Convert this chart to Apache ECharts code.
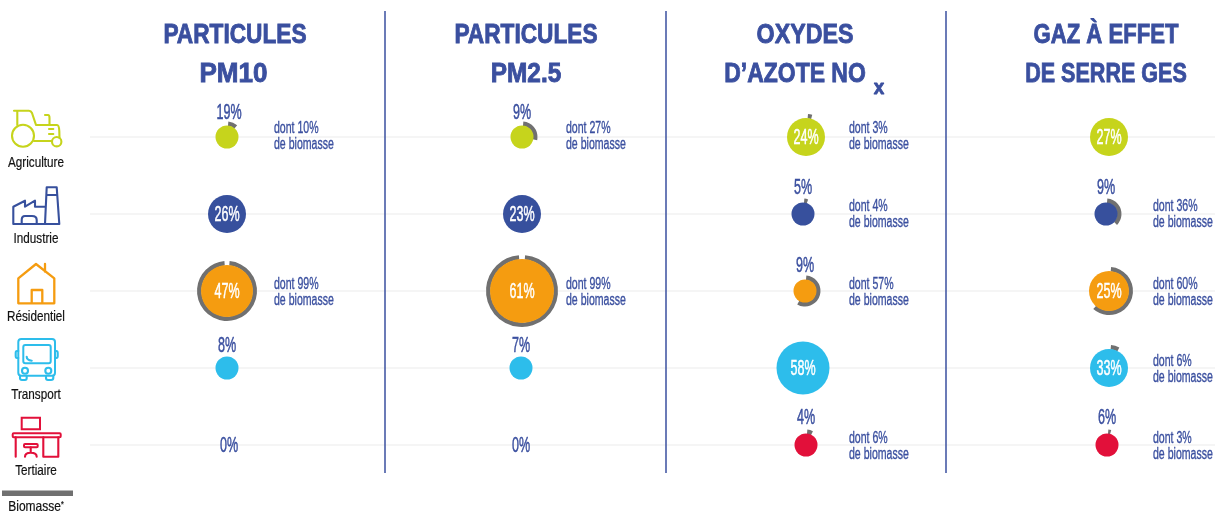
<!DOCTYPE html>
<html><head><meta charset="utf-8">
<style>html,body{margin:0;padding:0;background:#fff}#c{width:1215px;height:513px}</style>
<script src="https://cdn.jsdelivr.net/npm/echarts@6/dist/echarts.min.js"></script>
</head><body><div id="c"></div>
<script>
const sectors = ['Agriculture','Industrie','Résidentiel','Transport','Tertiaire'];
const pm10 = [19,26,47,8,0];
const pm25 = [9,23,61,7,0];
const nox  = [24,5,9,58,4];
const ges  = [27,9,25,33,6];
const pm10Biomass = [10,null,99,null,null];
const pm25Biomass = [27,null,99,null,null];
const noxBiomass  = [3,4,57,null,6];
const gesBiomass  = [null,36,60,6,3];

const BLUE='#3a4f9f', GRAY='#707070', FONT='"Liberation Sans",sans-serif';
const sectorColors=['#c6d41c','#37509d','#f59c10','#2dbdeb','#e2103a'];
const columns=[
 {values:pm10,bio:pm10Biomass,c:227,noteX:274,nudge:[0,0,0,0,2],labelNudge:[2,0,0,0,0]},
 {values:pm25,bio:pm25Biomass,c:522,noteX:566,nudge:[0,0,0,-1,-1],labelNudge:[0,0,0,0,0]},
 {values:nox,bio:noxBiomass,c:803,noteX:849,nudge:[3,0,2,0,3],labelNudge:[0,0,0,0,0]},
 {values:ges,bio:gesBiomass,c:1106,noteX:1153,nudge:[3,0,3,3,1],labelNudge:[0,0,0,0,0]}
];
const labelRise=[24,26,25,22,27], noteShift=[0,1,2,2,2], sectorLabelDrop=[26,25,26,27,26];
function diameter(v){
  if(v>=61) return 64;
  if(v>=47) return v===47?52:53;
  if(v===25) return 40;
  if(v>=23) return 38;
  return 23;
}
function pctText(txt,x,y,fill){
  return {type:'text',x,y,scaleX:.57,style:{text:txt,fill,stroke:fill,lineWidth:.5,font:'22px '+FONT,align:'center',verticalAlign:'middle'}};
}
function makeRender(col){
  return function(params,api){
    const xi=api.value(0), row=api.value(1), v=api.value(2), b=api.value(3);
    const p=api.coord([xi,row]);
    const cx=p[0]+col.nudge[row], cy=p[1];
    const kids=[];
    if(v===0){
      kids.push(pctText(v+'%',cx,cy+1,BLUE));
      return {type:'group',children:kids};
    }
    const d=diameter(v), r=d/2;
    if(!isNaN(b)&&b>0){
      const s=5*Math.PI/180, sweep=Math.min(b/100*2*Math.PI,350*Math.PI/180);
      const a0=-Math.PI/2+s;
      kids.push({type:'sector',shape:{cx,cy,r0:r-0.5,r:r+4,startAngle:a0,endAngle:a0+sweep,clockwise:true},style:{fill:GRAY}});
    }
    kids.push({type:'circle',shape:{cx,cy,r},style:{fill:sectorColors[row]}});
    if(d>=38) kids.push(pctText(v+'%',cx,cy+1,'#fff'));
    else kids.push(pctText(v+'%',cx+col.labelNudge[row],cy-labelRise[row],BLUE));
    if(!isNaN(b)&&b>0){
      const ny=p[1]+noteShift[row];
      [['dont '+b+'%',-8],['de biomasse',8]].forEach(function(l){
        kids.push({type:'text',x:col.noteX,y:ny+l[1],scaleX:.66,style:{text:l[0],fill:BLUE,stroke:BLUE,lineWidth:.35,font:'16px '+FONT,align:'left',verticalAlign:'middle'}});
      });
    }
    return {type:'group',children:kids};
  };
}
const grids=[{left:90,right:0,top:137,height:308}], xAxes=[{gridIndex:0,type:'value',show:false,min:0,max:1}], yAxes=[{
  gridIndex:0,type:'category',inverse:true,boundaryGap:false,data:sectors,
  axisLine:{show:false},axisTick:{show:false},axisLabel:{show:false},
  splitLine:{show:true,lineStyle:{color:'#f5f5f5',width:2}}
}];
const series=[];
columns.forEach(function(col,i){
  grids.push({left:col.c-10,width:20,top:137,height:308});
  xAxes.push({gridIndex:i+1,type:'category',show:false,data:['']});
  yAxes.push({gridIndex:i+1,type:'category',show:false,inverse:true,boundaryGap:false,data:sectors});
  series.push({type:'custom',xAxisIndex:i+1,yAxisIndex:i+1,renderItem:makeRender(col),silent:true,
    data:col.values.map(function(v,r){return [0,r,v,col.bio[r]==null?NaN:col.bio[r]];})});
});
// sector names, placed under their row on the shared category axis
series.push({type:'custom',xAxisIndex:0,yAxisIndex:0,silent:true,clip:false,
  data:sectors.map(function(s,r){return [0,r];}),
  renderItem:function(params,api){
    const r=api.value(1), y=api.coord([0,r])[1];
    return {type:'text',x:36,y:y+sectorLabelDrop[r],scaleX:.78,style:{text:sectors[r],fill:'#111',stroke:'#111',lineWidth:.2,font:'15px '+FONT,align:'center',verticalAlign:'middle'}};
  }});
function ln(d,color,w){return {type:'path',shape:{pathData:d},style:{fill:'none',stroke:color,lineWidth:w||2.1,lineJoin:'round',lineCap:'round'}};}
function ci(x,y,r,color){return {type:'circle',shape:{cx:x,cy:y,r},style:{fill:'none',stroke:color,lineWidth:2.1}};}
function re(x,y,w,h,color,rad){return {type:'rect',shape:{x,y,width:w,height:h,r:rad||0},style:{fill:'none',stroke:color,lineWidth:2}};}
const icons=[
 ln('M14,110.7H29Q31,110.7 32,113L36,125M17.3,110.7V125M36,125H57Q59,125 59.3,131L59.5,138M34,141H52M45,115H48Q49.5,115 49.5,118V125M49,129H53.3M49,134H53.3',sectorColors[0]),
 ci(23,135.7,11,sectorColors[0]),ci(56.7,141.7,4.7,sectorColors[0]),
 ln('M46.7,187.3H56.7L59.3,224H45ZM47,195H57M13.3,224V206.7L25,200.7V206.7L35,200.7V206.7H45M13.3,224H59.3M21.7,224V220Q21.7,216 25,216H32Q36.7,216 36.7,220V224',sectorColors[1]),
 ln('M18.3,278.3L36,264L54.3,278.3V303.3H18.3ZM45,264V271.7M31.7,303.3V290H42.3V303.3',sectorColors[2],2.3),
 re(18.3,339,36.7,36.7,sectorColors[3],3),re(23.3,345,27.4,18.3,sectorColors[3],2),
 ln('M18.3,351H17Q15.7,351 15.7,353V356Q15.7,358 17,358H18.3M55,351H56.3Q57.7,351 57.7,353V356Q57.7,358 56.3,358H55M20,375.7V378Q20,380 22,380H25Q26.7,380 26.7,378V375.7M46,375.7V378Q46,380 48,380H51Q53.3,380 53.3,378V375.7M26.7,356.7Q26.7,360 31.7,360.7',sectorColors[3]),
 ci(25,370.7,3,sectorColors[3]),ci(48.3,370.7,3,sectorColors[3]),
 re(21.7,417.7,18.3,11.6,sectorColors[4]),re(12.7,433.3,48,4,sectorColors[4],1),
 ln('M15.7,437.3V456.7M43.3,437.3V456.7H58.3V437.3M30.7,447.3V452.7M25,456.7Q25,452.7 30.7,452.7Q36.7,452.7 36.7,456.7',sectorColors[4]),
 re(24,444,13.7,3.3,sectorColors[4],1)
];
series.push({type:'custom',coordinateSystem:'none',silent:true,data:[[0]],
  renderItem:function(){return {type:'group',children:icons};}});

const titleLines=[['PARTICULES',235,35.5,.81],['PM10',233.5,74,.93],['PARTICULES',526,35.5,.81],['PM2.5',526,74,.87],['OXYDES',805,35.5,.83],['D’AZOTE NO',795,74,.82],['x',879,88,.9],['GAZ À EFFET',1106,35.5,.79],['DE SERRE GES',1106,74,.77]];
const titles=titleLines.map(function(t){return {type:'text',silent:true,z:20,x:t[1],y:t[2],scaleX:t[3],style:{
  text:t[0],fill:BLUE,stroke:BLUE,lineWidth:.9,font:(t[0]==='x'?'bold 21px ':'bold 28px ')+FONT,align:'center',verticalAlign:'middle'}};});
const dividers=[385,666,946].map(function(x){return {type:'line',silent:true,z:20,shape:{x1:x,y1:11,x2:x,y2:473},style:{stroke:BLUE,lineWidth:1.5}};});
const legendMark=[
 {type:'rect',silent:true,z:20,shape:{x:2,y:490.5,width:71,height:5.5},style:{fill:GRAY}},
 {type:'text',silent:true,z:20,x:36,y:507,scaleX:.8,style:{text:'Biomasse{s|*}',fill:'#111',stroke:'#111',lineWidth:.2,font:'15px '+FONT,align:'center',verticalAlign:'middle',rich:{s:{font:'9px '+FONT,fill:'#111',padding:[0,0,5,0]}}}}
];
const chart=echarts.init(document.getElementById('c'),null,{renderer:'canvas'});
chart.setOption({animation:false,backgroundColor:'#fff',grid:grids,xAxis:xAxes,yAxis:yAxes,series,
  graphic:{elements:titles.concat(dividers,legendMark)}});
</script></body></html>
